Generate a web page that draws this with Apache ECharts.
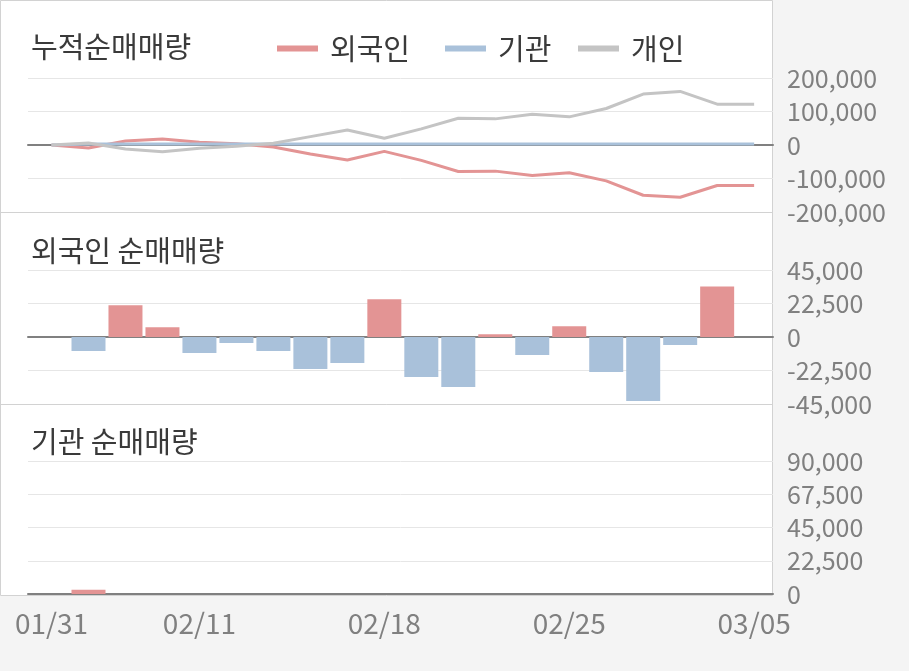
<!DOCTYPE html>
<html>
<head>
<meta charset="utf-8">
<script src="https://cdn.jsdelivr.net/npm/echarts@6/dist/echarts.min.js"></script>
<style>
html,body{margin:0;padding:0;background:#f4f4f4;}
#c{width:909px;height:671px;}
</style>
</head>
<body>
<div id="c"></div>
<script>
// ---- data ----
const dates = ['01/31','02/01','02/07','02/08','02/11','02/12','02/13','02/14','02/15','02/18','02/19','02/20','02/21','02/22','02/25','02/26','02/27','02/28','03/04','03/05'];
const xTickLabels = ['01/31','02/11','02/18','02/25','03/05'];
const seriesNames = ['외국인','기관','개인'];
const foreignCum = [0, -9000, 12000, 18000, 8000, 4000, -6000, -27000, -45000, -19000, -46000, -79000, -78000, -91000, -83000, -107000, -150000, -156000, -121000, -121000];
const instCum = [0, 3000, 3000, 3000, 3000, 3000, 3000, 3000, 3000, 3000, 3000, 3000, 3000, 3000, 3000, 3000, 3000, 3000, 3000, 3000];
const indivCum = [0, 6000, -12000, -20000, -10000, -4000, 5000, 25000, 45000, 20000, 48000, 80000, 78000, 92000, 84000, 109000, 152000, 160000, 122000, 122000];
const foreignDaily = [null, -9400, 21300, 6500, -10700, -4000, -9400, -21500, -17500, 25300, -26900, -33600, 1800, -12100, 7200, -23500, -43000, -5400, 34000, null];
const instDaily = [null, 2900, 0, 0, 0, 0, 0, 0, 0, 0, 0, 0, 0, 0, 0, 0, 0, 0, 0, null];
const topTicks = {min: -200000, max: 200000, interval: 100000};
const midTicks = {min: -45000, max: 45000, interval: 22500};
const botTicks = {min: 0, max: 90000, interval: 22500};

// ---- styles ----
const FONT = 'Noto Sans CJK KR';
const RED = '#e39494', BLUE = '#a9c1da', GRAY = '#c4c4c4';
const pairs = arr => arr.map((v, i) => [i, v]);
const signColor = p => (p.value[1] >= 0 ? RED : BLUE);

const gridLeft = 28, gridRight = 136;
const grids = [
  {left: gridLeft, right: gridRight, top: 78, height: 134},
  {left: gridLeft, right: gridRight, top: 270, height: 134},
  {left: gridLeft, right: gridRight, top: 461, height: 133}
];
function xAx(i, showLabel) {
  return {
    type: 'value', gridIndex: i, min: -0.636, max: 19.51,
    axisLine: {show: true, onZero: true, lineStyle: {color: '#808080', width: 2}},
    axisTick: {show: false}, splitLine: {show: false},
    axisLabel: showLabel ? {
      show: true, customValues: xTickLabels.map(d => dates.indexOf(d)),
      formatter: v => dates[Math.round(v)], color: '#808080',
      fontFamily: FONT, fontSize: 28, margin: 15
    } : {show: false}
  };
}
function yAx(i, t) {
  return {
    type: 'value', gridIndex: i, position: 'right', min: t.min, max: t.max, interval: t.interval,
    axisLine: {show: false}, axisTick: {show: false},
    splitLine: {show: true, lineStyle: {color: '#e6e6e6', width: 1}},
    axisLabel: {
      show: true, color: '#808080', fontFamily: FONT, fontSize: 25, margin: 14, align: 'left',
      formatter: v => Number(v).toLocaleString('en-US')
    }
  };
}
const titleStyle = {fontFamily: FONT, fontSize: 29, fontWeight: 'normal', color: '#3a3a3a'};
const legendPos = [272, 440, 573];
const chart = echarts.init(document.getElementById('c'), null, {renderer: 'canvas'});
chart.setOption({
  backgroundColor: '#f4f4f4',
  animation: false,
  textStyle: {fontFamily: FONT},
  graphic: [
    {type: 'rect', z: -10, shape: {x: 0.5, y: 0.5, width: 772, height: 595}, style: {fill: '#ffffff', stroke: '#d2d2d2', lineWidth: 1}},
    {type: 'line', z: 10, shape: {x1: 0, y1: 212.5, x2: 773, y2: 212.5}, style: {stroke: '#d2d2d2', lineWidth: 1}},
    {type: 'line', z: 10, shape: {x1: 0, y1: 404.5, x2: 773, y2: 404.5}, style: {stroke: '#d2d2d2', lineWidth: 1}}
  ],
  title: [
    {text: '누적순매매량', left: 26, top: 27, textStyle: titleStyle},
    {text: '외국인 순매매량', left: 26, top: 231, textStyle: titleStyle},
    {text: '기관 순매매량', left: 26, top: 422, textStyle: titleStyle}
  ],
  legend: seriesNames.map((n, k) => ({
    data: [n], left: legendPos[k], top: 29, icon: 'rect', itemWidth: 41, itemHeight: 6,
    textStyle: {fontFamily: FONT, fontSize: 29, color: '#3a3a3a', padding: [0, 0, 0, 7]}
  })),
  grid: grids,
  xAxis: [xAx(0, false), xAx(1, false), xAx(2, true)],
  yAxis: [yAx(0, topTicks), yAx(1, midTicks), yAx(2, botTicks)],
  series: [
    {name: seriesNames[0], type: 'line', xAxisIndex: 0, yAxisIndex: 0, data: pairs(foreignCum), symbol: 'none', lineStyle: {width: 3, color: RED}, itemStyle: {color: RED}, z: 3},
    {name: seriesNames[1], type: 'line', xAxisIndex: 0, yAxisIndex: 0, data: pairs(instCum), symbol: 'none', lineStyle: {width: 3, color: BLUE}, itemStyle: {color: BLUE}, z: 3},
    {name: seriesNames[2], type: 'line', xAxisIndex: 0, yAxisIndex: 0, data: pairs(indivCum), symbol: 'none', lineStyle: {width: 3, color: GRAY}, itemStyle: {color: GRAY}, z: 3},
    {name: 'foreignDaily', type: 'bar', xAxisIndex: 1, yAxisIndex: 1, data: pairs(foreignDaily), barWidth: 34, itemStyle: {color: signColor}},
    {name: 'instDaily', type: 'bar', xAxisIndex: 2, yAxisIndex: 2, data: pairs(instDaily), barWidth: 34, itemStyle: {color: signColor}}
  ]
});
</script>
</body>
</html>
